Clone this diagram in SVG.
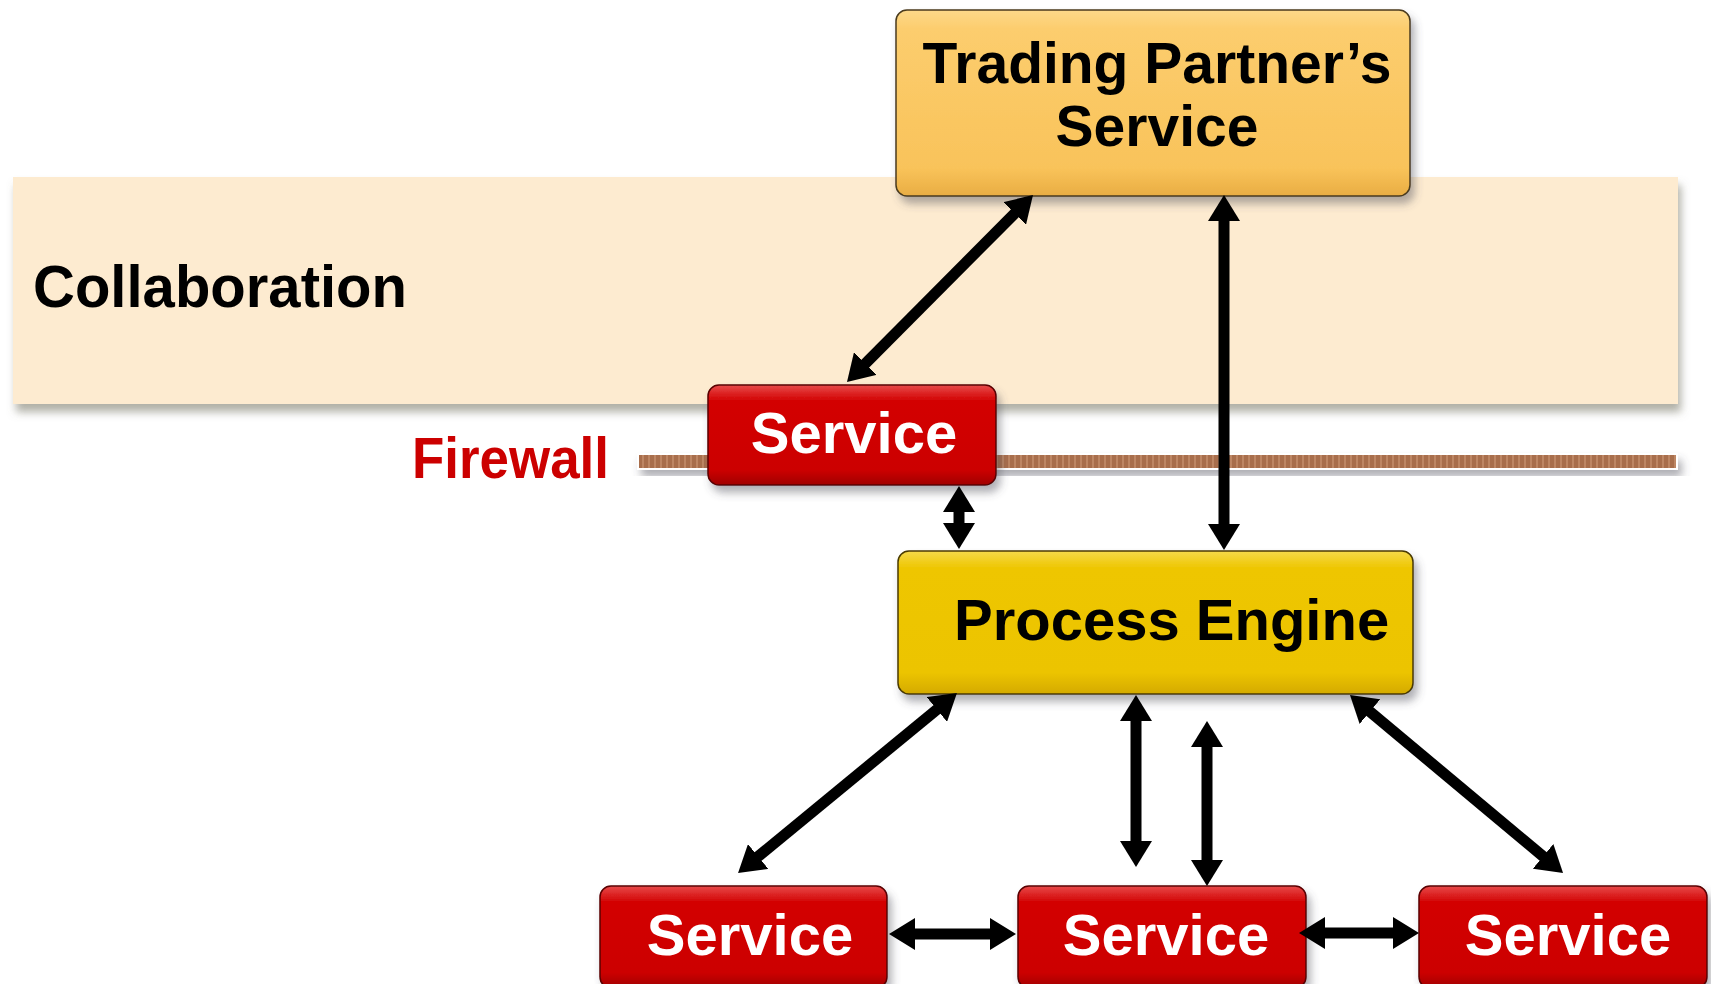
<svg xmlns="http://www.w3.org/2000/svg" width="1711" height="984" viewBox="0 0 1711 984">
  <defs>
    <style>
      .lbl { font-family: "Liberation Sans", Arial, Helvetica, sans-serif; font-weight: bold; }
      .dark { fill: #000000; }
      .white { fill: #ffffff; }
      .red { fill: #cc0000; }
      .conn { stroke: #000000; stroke-width: 11; fill: none; marker-start: url(#ah); marker-end: url(#ah); }
      .svc { fill: url(#gRed); stroke: #5a0000; stroke-width: 1.5; filter: url(#sh); }
    </style>
    <marker id="ah" viewBox="0 0 26 32" refX="6" refY="16" markerWidth="26" markerHeight="32" markerUnits="userSpaceOnUse" orient="auto-start-reverse">
      <path d="M0,0 L26,16 L0,32 Z" fill="#000000"/>
    </marker>
    <linearGradient id="gTrade" x1="0" y1="0" x2="0" y2="1">
      <stop offset="0" stop-color="#fdd98a"/>
      <stop offset="0.1" stop-color="#fccd6e"/>
      <stop offset="0.85" stop-color="#f9c35a"/>
      <stop offset="1" stop-color="#e9ad43"/>
    </linearGradient>
    <linearGradient id="gProc" x1="0" y1="0" x2="0" y2="1">
      <stop offset="0" stop-color="#f5d94a"/>
      <stop offset="0.12" stop-color="#eec600"/>
      <stop offset="0.85" stop-color="#ecc400"/>
      <stop offset="1" stop-color="#d4aa00"/>
    </linearGradient>
    <linearGradient id="gRed" x1="0" y1="0" x2="0" y2="1">
      <stop offset="0" stop-color="#e84a4a"/>
      <stop offset="0.15" stop-color="#d30606"/>
      <stop offset="0.85" stop-color="#cc0000"/>
      <stop offset="1" stop-color="#a00000"/>
    </linearGradient>
    <pattern id="pFire" x="0" y="0" width="6" height="14" patternUnits="userSpaceOnUse">
      <rect width="6" height="14" fill="#a86e4c"/>
      <rect width="2" height="14" fill="#bd8664"/>
    </pattern>
    <filter id="sh" x="-10%" y="-20%" width="125%" height="150%">
      <feDropShadow dx="4" dy="7" stdDeviation="4" flood-color="#50505a" flood-opacity="0.45"/>
    </filter>
    <filter id="shBand" x="-5%" y="-10%" width="110%" height="130%">
      <feDropShadow dx="3" dy="8" stdDeviation="4" flood-color="#707060" flood-opacity="0.55"/>
    </filter>
  </defs>

  <rect width="1711" height="984" fill="#ffffff"/>

  <g id="collaboration">
    <rect x="13" y="177" width="1665" height="227" fill="#fdebd0" filter="url(#shBand)"/>
    <text class="lbl dark" x="33" y="307" font-size="60" textLength="374" lengthAdjust="spacingAndGlyphs">Collaboration</text>
  </g>

  <g id="firewall">
    <rect x="637" y="453" width="1041" height="17" fill="#ffffff" filter="url(#sh)"/>
    <rect x="639" y="455" width="1037" height="13" fill="url(#pFire)"/>
    <text class="lbl red" x="412" y="478" font-size="57" textLength="197" lengthAdjust="spacingAndGlyphs">Firewall</text>
  </g>

  <g id="trading-partner-service">
    <rect x="896" y="10" width="514" height="186" rx="11" fill="url(#gTrade)" stroke="#4a3a1c" stroke-width="1.5" filter="url(#sh)"/>
    <text class="lbl dark" x="1157" y="83" font-size="57" text-anchor="middle">Trading Partner’s</text>
    <text class="lbl dark" x="1157" y="146" font-size="57" text-anchor="middle">Service</text>
  </g>

  <g id="service-firewall">
    <rect class="svc" x="708" y="385" width="288" height="100" rx="11"/>
    <text class="lbl white" x="854" y="453" font-size="58" text-anchor="middle">Service</text>
  </g>

  <g id="process-engine">
    <rect x="898" y="551" width="515" height="143" rx="11" fill="url(#gProc)" stroke="#4a3a00" stroke-width="1.5" filter="url(#sh)"/>
    <text class="lbl dark" x="954" y="640" font-size="58">Process Engine</text>
  </g>

  <g id="service-left">
    <rect class="svc" x="600" y="886" width="287" height="102" rx="11"/>
    <text class="lbl white" x="750" y="955" font-size="58" text-anchor="middle">Service</text>
  </g>

  <g id="service-middle">
    <rect class="svc" x="1018" y="886" width="288" height="102" rx="11"/>
    <text class="lbl white" x="1166" y="955" font-size="58" text-anchor="middle">Service</text>
  </g>

  <g id="service-right">
    <rect class="svc" x="1419" y="886" width="288" height="102" rx="11"/>
    <text class="lbl white" x="1568" y="955" font-size="58" text-anchor="middle">Service</text>
  </g>

  <g id="connectors">
    <line class="conn" x1="1018.9" y1="209.2" x2="861.1" y2="367.8"/>
    <line class="conn" x1="1224" y1="215" x2="1224" y2="530"/>
    <line class="conn" x1="959" y1="506" x2="959" y2="529"/>
    <line class="conn" x1="941.5" y1="705.7" x2="753.5" y2="860.3"/>
    <line class="conn" x1="1136" y1="715" x2="1136" y2="847"/>
    <line class="conn" x1="1207" y1="741" x2="1207" y2="866"/>
    <line class="conn" x1="1365.3" y1="707.8" x2="1547.7" y2="860.2"/>
    <line class="conn" x1="909" y1="934" x2="996" y2="934"/>
    <line class="conn" x1="1319" y1="933" x2="1399" y2="933"/>
  </g>
</svg>
